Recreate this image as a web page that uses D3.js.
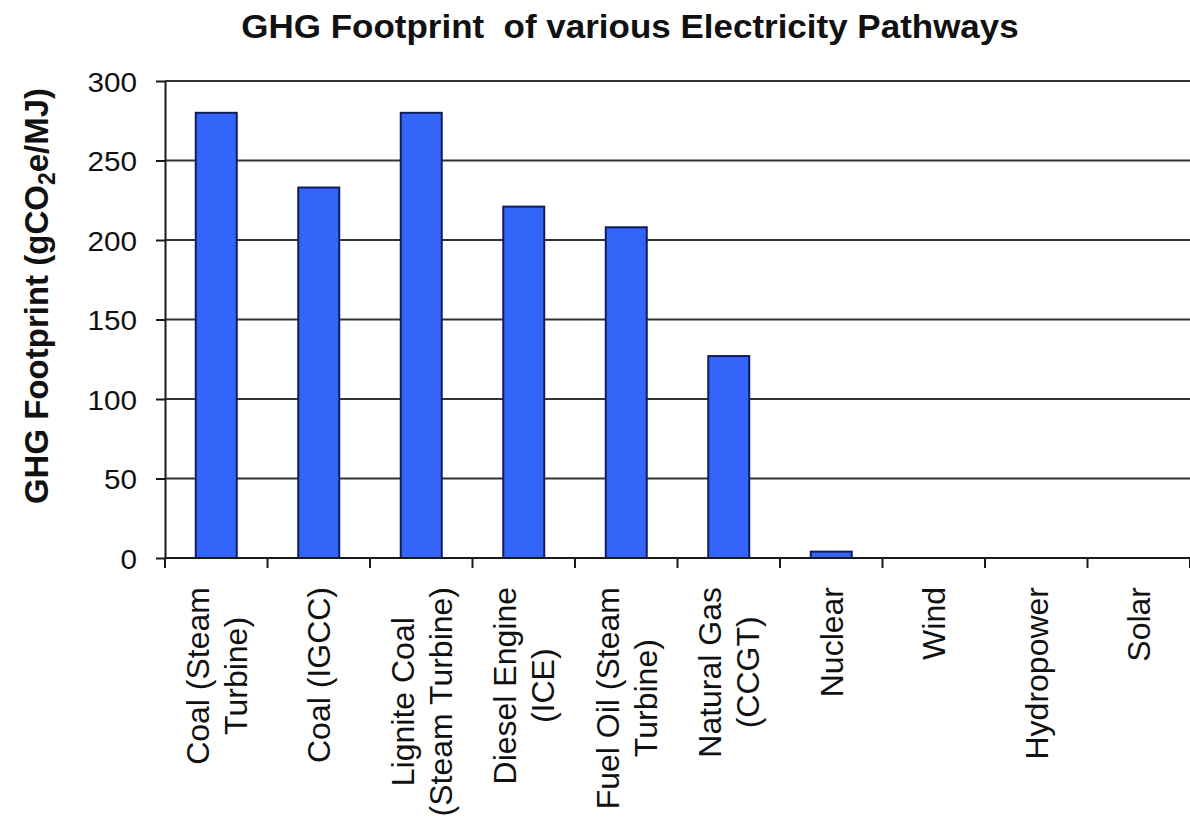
<!DOCTYPE html>
<html>
<head>
<meta charset="utf-8">
<script src="https://cdn.jsdelivr.net/npm/d3@7"></script>
<style>
  html, body { margin: 0; padding: 0; background: #fff; }
  svg { display: block; font-family: "Liberation Sans", Arial, sans-serif; }
</style>
</head>
<body>
<svg id="chart" width="1190" height="822"></svg>
<script>
// Pathway names (line breaks mark the wrapped label lines)
const categories = [
  "Coal (Steam\nTurbine)",
  "Coal (IGCC)",
  "Lignite Coal\n(Steam Turbine)",
  "Diesel Engine\n(ICE)",
  "Fuel Oil (Steam\nTurbine)",
  "Natural Gas\n(CCGT)",
  "Nuclear",
  "Wind",
  "Hydropower",
  "Solar"
];
// GHG footprint, gCO2e/MJ
const footprint = [280, 233, 280, 221, 208, 127, 4, 0, 0, 0];
const yTicks = [0, 50, 100, 150, 200, 250, 300];

const width = 1190, height = 822;
const svg = d3.select("#chart");
const plotLeft = 165, plotRight = 1190, plotTop = 81, plotBottom = 558;

const x = d3.scaleBand()
  .domain(categories)
  .range([plotLeft, plotRight])
  .paddingInner(0.6)
  .paddingOuter(0.3);

const y = d3.scaleLinear().domain([0, 300]).range([plotBottom, plotTop]);

// Horizontal gridlines
svg.append("g")
  .selectAll("line")
  .data(yTicks.filter(d => d > 0))
  .join("line")
  .attr("x1", plotLeft).attr("x2", plotRight)
  .attr("y1", d => y(d)).attr("y2", d => y(d))
  .attr("stroke", "#333")
  .attr("stroke-width", 2);

// Bars
svg.append("g")
  .selectAll("rect")
  .data(categories.map((c, i) => ({ c, v: footprint[i] })).filter(d => d.v > 0))
  .join("rect")
  .attr("x", d => x(d.c))
  .attr("width", x.bandwidth())
  .attr("y", d => y(d.v))
  .attr("height", d => y(0) - y(d.v))
  .attr("fill", "#3366f8")
  .attr("stroke", "#101c5c")
  .attr("stroke-width", 2);

// Y axis
const yAxis = svg.append("g")
  .attr("transform", `translate(${plotLeft},0)`)
  .call(d3.axisLeft(y).tickValues(yTicks).tickSize(9).tickSizeOuter(0).tickFormat(d3.format("d")));
yAxis.select(".domain").attr("stroke", "#1a1a1a").attr("stroke-width", 2);
yAxis.selectAll(".tick line").attr("stroke", "#1a1a1a").attr("stroke-width", 2);
yAxis.selectAll(".tick text")
  .attr("x", null).attr("dy", null)
  .attr("transform", "translate(-28,10) scale(1.06,1)")
  .attr("text-anchor", "end")
  .attr("fill", "#111")
  .style("font-size", "28px")
  .style("font-family", "'Liberation Sans', Arial, sans-serif");

// X axis line with ticks at the category boundaries
const step = x.step();
const boundaries = d3.range(categories.length + 1).map(i => plotLeft + i * step);
svg.append("line")
  .attr("x1", plotLeft).attr("x2", plotRight)
  .attr("y1", plotBottom).attr("y2", plotBottom)
  .attr("stroke", "#1a1a1a").attr("stroke-width", 2);
svg.append("g")
  .selectAll("line")
  .data(boundaries)
  .join("line")
  .attr("x1", d => d).attr("x2", d => d)
  .attr("y1", plotBottom).attr("y2", plotBottom + 10)
  .attr("stroke", "#1a1a1a").attr("stroke-width", 2);

// Category labels, rotated, lines centred on each other and top-aligned below the axis;
// a line that would run past the bottom edge is condensed to fit
const labelTop = 587, fs = 32, lineGap = 38, maxRun = height - labelTop - 3;
const labels = svg.append("g").style("font-size", fs + "px").attr("fill", "#111");
categories.forEach(cat => {
  const lines = cat.split("\n");
  const cx = x(cat) + x.bandwidth() / 2;
  const g = labels.append("g");
  const texts = lines.map(ln => g.append("text")
    .attr("text-anchor", "middle")
    .text(ln));
  texts.forEach(t => {
    const len = t.node().getComputedTextLength();
    if (len > maxRun) t.attr("textLength", maxRun).attr("lengthAdjust", "spacingAndGlyphs");
  });
  const maxLen = d3.max(texts, t => Math.min(maxRun, t.node().getComputedTextLength()));
  const cy = labelTop + maxLen / 2;
  texts.forEach((t, i) => {
    const off = (i - (lines.length - 1) / 2) * lineGap + fs * 0.36;
    t.attr("transform", `translate(${cx + off},${cy}) rotate(-90)`);
  });
});

// Y axis title
const yTitle = svg.append("text")
  .attr("transform", "translate(48,296) rotate(-90)")
  .attr("text-anchor", "middle")
  .style("font-size", "33px")
  .style("font-weight", "bold")
  .attr("fill", "#111");
yTitle.append("tspan").text("GHG Footprint (gCO");
yTitle.append("tspan").attr("dy", 7).style("font-size", "23px").text("2");
yTitle.append("tspan").attr("dy", -7).text("e/MJ)");

// Chart title
svg.append("text")
  .attr("transform", "translate(630,38) scale(1.06,1)")
  .attr("text-anchor", "middle")
  .style("font-size", "33px")
  .style("font-weight", "bold")
  .attr("fill", "#111")
  .attr("xml:space", "preserve")
  .style("white-space", "pre")
  .text("GHG Footprint  of various Electricity Pathways");
</script>
</body>
</html>
